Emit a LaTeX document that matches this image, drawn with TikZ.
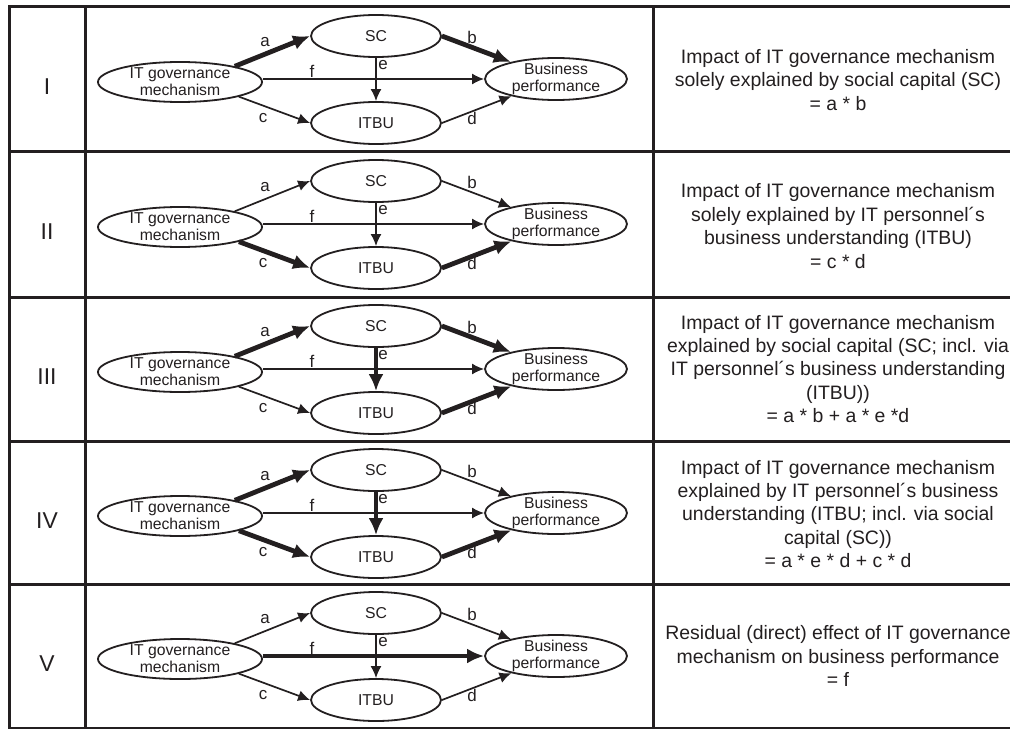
\documentclass[tikz,border=0pt]{standalone}
\usepackage{fontspec}
\setmainfont{Liberation Sans}
\usetikzlibrary{arrows.meta,shapes.geometric}
\definecolor{ink}{RGB}{35,31,32}
\tikzset{
  ell/.style={ellipse, draw=ink, line width=1.8bp, inner sep=0pt},
  inell/.style={font=\fontsize{15.8}{17}\selectfont, align=center, text=ink, inner sep=0pt},
  elab/.style={font=\fontsize{17}{19}\selectfont, text=ink, inner sep=0pt},
  thinarr/.style={draw=ink, line width=1.7bp, -{Latex[length=12bp,width=11bp]}},
  thickarr/.style={draw=ink, line width=4.8bp, -{Latex[length=17bp,width=15bp]}},
  gridline/.style={draw=ink, line width=3bp},
  desc/.style={font=\fontsize{19.5}{23.5}\selectfont, align=center, text=ink},
  rowlab/.style={font=\fontsize{23}{26}\selectfont, text=ink},
}
% #1 id, #2 row top, #3 numeral, #4..#9 styles of a b c d e f
\newcommand\mrow[9]{%
  \begin{scope}[yshift=-#2bp]
    \node[rowlab] (num#1) at (47,80) {#3};
    \node[ell, minimum width=164bp, minimum height=40bp,
          label={[inell]center:IT governance\\mechanism}] (itg#1) at (180,75) {};
    \node[ell, minimum width=130bp, minimum height=42bp,
          label={[inell]center:SC}] (sc#1) at (376,29) {};
    \node[ell, minimum width=130bp, minimum height=42bp,
          label={[inell]center:ITBU}] (itbu#1) at (376,116) {};
    \node[ell, minimum width=142bp, minimum height=42bp,
          label={[inell]center:Business\\performance}] (bp#1) at (556,72) {};
    \draw[#4] (itg#1.16) -- (sc#1.west);
    \draw[#5] (sc#1.east) -- (bp#1);
    \draw[#6] (itg#1.-14) -- (itbu#1.west);
    \draw[#7] (itbu#1.east) -- (bp#1);
    \draw[#8] (sc#1.south) -- (itbu#1.north);
    \draw[#9] (itg#1.east |- bp#1.west) -- (bp#1.west);
    \node[elab] (la#1) at (265,35) {a};
    \node[elab] (lb#1) at (472,30) {b};
    \node[elab] (lc#1) at (263,111) {c};
    \node[elab] (ld#1) at (472,111) {d};
    \node[elab] (le#1) at (383,58) {e};
    \node[elab] (lf#1) at (312,64) {f};
  \end{scope}}
\begin{document}
\begin{tikzpicture}[x=1bp,y=-1bp]
  \useasboundingbox (0,0) rectangle (1010,729);
  \clip (0,0) rectangle (1010,729);
  \fill[white] (0,0) rectangle (1010,729);
  % table grid
  \draw[gridline] (1015,7) -- (9,7) -- (9,735);
  \draw[gridline] (85,7) -- (85,735);
  \draw[gridline] (653,7) -- (653,735);
  \foreach \yy in {152,297,441,584,728} {
    \draw[gridline] (9,\yy) -- (1015,\yy);
  }
  % diagram rows
  \mrow{1}{7}{I}{thickarr}{thickarr}{thinarr}{thinarr}{thinarr}{thinarr}
  \mrow{2}{152}{II}{thinarr}{thinarr}{thickarr}{thickarr}{thinarr}{thinarr}
  \mrow{3}{297}{III}{thickarr}{thickarr}{thinarr}{thickarr}{thickarr}{thinarr}
  \mrow{4}{441}{IV}{thickarr}{thinarr}{thickarr}{thickarr}{thickarr}{thinarr}
  \mrow{5}{584}{V}{thinarr}{thinarr}{thinarr}{thinarr}{thinarr}{thickarr}
  % descriptions
  \node[desc] (t1) at (838,80) {Impact of IT governance mechanism\\solely explained by social capital (SC)\\= a * b};
  \node[desc] (t2) at (838,226) {Impact of IT governance mechanism\\solely explained by IT personnel´s\\business understanding (ITBU)\\= c * d};
  \node[desc] (t3) at (838,369) {Impact of IT governance mechanism\\explained by social capital (SC; incl. via\\IT personnel´s business understanding\\(ITBU))\\= a * b + a * e *d};
  \node[desc] (t4) at (838,514) {Impact of IT governance mechanism\\explained by IT personnel´s business\\understanding (ITBU; incl. via social\\capital (SC))\\= a * e * d + c * d};
  \node[desc] (t5) at (838,656) {Residual (direct) effect of IT governance\\mechanism on business performance\\= f};
\end{tikzpicture}
\end{document}
